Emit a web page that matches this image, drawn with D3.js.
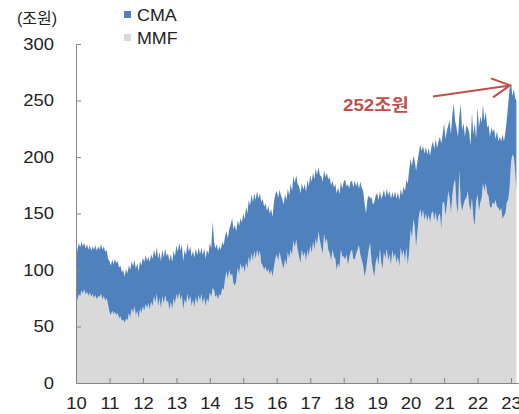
<!DOCTYPE html>
<html>
<head>
<meta charset="utf-8">
<script src="https://cdn.jsdelivr.net/npm/d3@7"></script>
<style>
body { margin: 0; background: #fff; }
text { font-family: "Liberation Sans", Arial, "Noto Sans CJK KR", sans-serif; }
</style>
</head>
<body>
<div id="myDiv"></div>
<script>
// semi-monthly readings (1st and 16th of each month), Jan 2010 - Mar 2023, 조원
var mmf = [
  68,74,79,76,82,79,83,78,81,77,80,76,79,75,78,74,77,76,79,74,77,73,75,70,         // 2010
  63,60,64,61,63,60,62,57,59,55,56,53,57,55,62,58,66,62,68,60,64,57,66,62,         // 2011
  68,64,70,66,71,65,72,68,77,71,79,68,75,66,77,70,78,71,73,65,72,65,75,70,         // 2012
  79,74,80,73,78,65,74,70,79,72,77,68,74,67,76,70,78,72,79,70,76,68,75,71,         // 2013
  80,76,84,82,76,78,74,79,77,84,82,92,99,92,100,95,97,88,86,90,102,96,106,101,     // 2014
  104,98,107,101,112,106,115,108,117,110,118,112,117,106,104,100,103,98,101,96,100,94,102,110, // 2015
  114,108,116,110,105,101,110,104,116,110,118,113,126,120,127,118,112,106,118,112,116,108,118,112, // 2016
  122,115,125,118,128,122,134,126,120,114,132,124,128,118,115,108,118,112,110,100,106,102,118,112, // 2017
  112,109,114,104,110,116,118,110,109,114,118,122,114,109,104,94,100,109,118,124,108,100,94,106, // 2018
  112,104,119,106,101,116,110,119,108,114,104,118,110,115,106,112,103,120,112,118,108,120,104,116, // 2019
  136,128,145,138,120,134,148,154,146,153,144,150,143,149,142,150,152,144,151,142,148,150,136,160, // 2020
  160,148,158,170,164,150,166,176,180,158,150,188,160,152,158,162,164,170,158,152,164,146,139,160, // 2021
  167,152,160,164,177,170,177,168,165,156,155,160,158,162,156,155,152,155,145,148,150,160,162,172, // 2022
  195,202,200,186,170                                                               // 2023
];

var cma = [
  38,44,45,44,43,42,41,41,42,41,42,41,42,43,44,43,44,42,44,44,44,43,43,40,  // 2010
  45,44,45,44,47,46,46,45,45,43,44,41,44,42,42,42,42,41,41,41,42,42,42,42,  // 2011
  43,43,43,42,41,42,42,42,41,41,41,42,41,42,41,41,41,41,42,43,42,42,42,42,  // 2012
  43,42,44,44,45,43,44,43,45,44,44,44,43,44,43,43,42,42,41,43,43,42,43,43,  // 2013
  44,43,59,43,43,45,43,42,41,41,40,38,35,36,36,45,49,48,54,44,42,43,40,41,  // 2014
  46,47,49,49,50,51,52,52,51,52,52,51,51,54,59,56,56,54,56,54,54,53,58,57,  // 2015
  56,56,55,56,58,57,57,58,56,56,58,57,57,57,57,58,62,62,59,59,60,61,62,62,  // 2016
  62,63,61,62,62,62,57,58,63,64,56,58,58,62,67,67,61,61,66,68,67,65,60,60,  // 2017
  66,71,60,72,62,62,61,63,70,60,60,50,64,64,66,66,50,53,48,40,56,58,66,60,  // 2018
  56,58,51,57,65,55,54,53,58,56,59,51,54,55,57,57,59,52,54,56,62,60,72,72,  // 2019
  62,64,56,58,68,62,56,57,59,57,59,59,59,59,59,59,62,63,65,66,66,68,76,60,  // 2020
  70,68,66,58,69,70,72,71,52,68,68,48,87,72,72,56,64,56,64,58,75,74,91,56,  // 2021
  77,74,76,66,70,62,63,58,63,62,71,62,67,54,67,59,66,59,75,66,72,73,84,88,  // 2022
  71,52,60,66,80                                                            // 2023
];

var seriesNames = ["CMA", "MMF"];
var yearLabels = ["10","11","12","13","14","15","16","17","18","19","20","21","22","23"];
var yTicks = [0, 50, 100, 150, 200, 250, 300];
var unitLabel = "(조원)";
var noteLabel = "252조원";

var blue = "#4f81bd";
var grey = "#d9d9d9";
var red = "#c0504d";

// the source text is drawn a little wider than the font
function widen(sel, k) {
  sel.each(function(){
    var w = this.getComputedTextLength();
    d3.select(this)
      .attr("textLength", w * k)
      .attr("lengthAdjust", "spacingAndGlyphs");
  });
}

// date of each reading
var table = [];
for (var i = 0; i < mmf.length; i++) {
  table.push({
    date: new Date(2010 + Math.floor(i / 24), Math.floor((i % 24) / 2), i % 2 ? 16 : 1),
    MMF: mmf[i],
    CMA: cma[i]
  });
}

var svg = d3.select("#myDiv").append("svg")
    .attr("width", 519)
    .attr("height", 414);

var x = d3.scaleTime()
    .domain([new Date(2010, 0, 1), new Date(2023, 0, 1)])
    .range([76, 511]);

var y = d3.scaleLinear()
    .domain([0, 300])
    .range([383, 44]);

var stacked = d3.stack().keys(["MMF", "CMA"])(table);

var area = d3.area()
    .x(function(d){ return x(d.data.date); })
    .y0(function(d){ return y(d[0]); })
    .y1(function(d){ return y(d[1]); });

svg.selectAll("path.layer")
    .data(stacked)
    .enter()
    .append("path")
    .attr("class", "layer")
    .attr("d", area)
    .attr("fill", function(d){ return d.key == "MMF" ? grey : blue; });

// axes
var yearTicks = yearLabels.map(function(s){ return new Date(2000 + Number(s), 0, 1); });

var xAxis = svg.append("g")
    .attr("transform", "translate(0,383)")
    .call(d3.axisBottom(x)
      .tickValues(yearTicks)
      .tickFormat(function(d, i){ return yearLabels[i]; })
      .tickSizeInner(-5)
      .tickSizeOuter(0)
      .tickPadding(15));

xAxis.select(".domain").attr("d", "M76.5,0.5H519");

var yAxis = svg.append("g")
    .attr("transform", "translate(76,0)")
    .call(d3.axisLeft(y)
      .tickValues(yTicks)
      .tickSizeInner(-5)
      .tickSizeOuter(0)
      .tickPadding(22));

svg.selectAll(".domain, .tick line").attr("stroke", "#868686");
svg.selectAll(".tick text")
    .attr("font-size", 16)
    .attr("fill", "#222")
    .style("font-family", "'Liberation Sans', Arial, sans-serif")
    .call(widen, 1.15);

// unit + legend
svg.append("text")
    .attr("x", 17)
    .attr("y", 24)
    .attr("font-size", 16)
    .attr("fill", "#222")
    .text(unitLabel);

var legend = svg.selectAll("g.legend")
    .data(seriesNames)
    .enter()
    .append("g")
    .attr("class", "legend")
    .attr("transform", function(d, i){ return "translate(124," + (11 + i * 23) + ")"; });

legend.append("rect")
    .attr("width", 7)
    .attr("height", 7)
    .attr("fill", function(d){ return d == "CMA" ? blue : grey; });

legend.append("text")
    .attr("x", 13)
    .attr("y", 10)
    .attr("font-size", 17)
    .attr("fill", "#222")
    .text(function(d){ return d; })
    .call(widen, 1.05);

// peak note
var peak = d3.maxIndex(table, function(d){ return d.MMF + d.CMA; });
var tx = x(table[peak].date) - 1;
var ty = y(table[peak].MMF + table[peak].CMA) + 3;

svg.append("path")
    .attr("d", "M" + (tx - 77) + "," + (ty + 11) + "L" + tx + "," + ty +
               "M" + (tx - 19) + "," + (ty - 7) + "L" + tx + "," + ty + "L" + (tx - 17) + "," + (ty + 12))
    .attr("fill", "none")
    .attr("stroke", red)
    .attr("stroke-width", 2);

svg.append("text")
    .attr("x", 343)
    .attr("y", 111)
    .attr("font-size", 17)
    .attr("font-weight", "bold")
    .attr("fill", red)
    .text(noteLabel)
    .call(widen, 1.1);
</script>
</body>
</html>
